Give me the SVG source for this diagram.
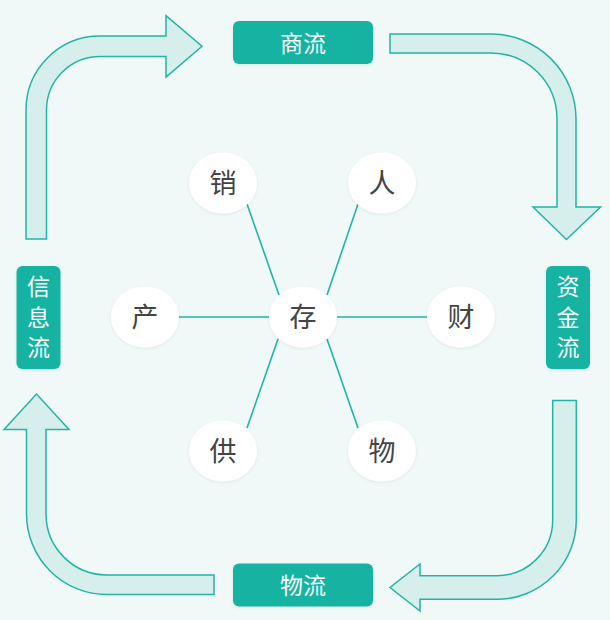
<svg xmlns="http://www.w3.org/2000/svg" width="610" height="620" viewBox="0 0 610 620">
<defs>
<filter id="sh" x="-20%" y="-20%" width="140%" height="140%">
<feDropShadow dx="0" dy="1" stdDeviation="1.5" flood-color="#000" flood-opacity="0.08"/>
</filter>
<style>
.arrow{fill:#d7efec;stroke:#24b4a3;stroke-width:1.5;stroke-linejoin:miter}
.box{fill:#17b3a2;filter:url(#sh)}
.btxt{fill:#ffffff;font-family:"Noto Sans CJK SC","Noto Sans",sans-serif;font-size:23px;text-anchor:middle}
.vtxt{writing-mode:vertical-rl;text-orientation:upright;letter-spacing:7.5px}
.node{fill:#ffffff;filter:url(#sh)}
.ntxt{fill:#444444;font-family:"Noto Sans CJK SC","Noto Sans",sans-serif;font-size:27px;text-anchor:middle}
.link{stroke:#1fb5a3;stroke-width:1.6;fill:none}
</style>
</defs>
<rect x="0" y="0" width="610" height="620" fill="#f1f8f8"/>
<g id="connectors">
<path class="arrow" d="M46.5,239 L46.5,110 A53.5,53.5 0 0 1 100,56.5 L166,56.5 L166,77 L202,46.3 L166,15.7 L166,36 L100,36 A74,74 0 0 0 26,110 L26,239 Z"/>
<path class="arrow" d="M390,34 L491,34 A85,85 0 0 1 576,119 L576,207 L600.5,207 L566.5,239.5 L533,207 L557,207 L557,119 A66,66 0 0 0 491,53 L390,53 Z"/>
<path class="arrow" d="M552.7,400.5 L576.3,400.5 L576.3,520 A79.3,79.3 0 0 1 497,599.3 L420,599.3 L420,611 L390,587.5 L420,564 L420,575.7 L497,575.7 A55.7,55.7 0 0 0 552.7,520 Z"/>
<path class="arrow" d="M214,575 L107,575 A61,61 0 0 1 46,514 L46,429.5 L69,429.5 L36.5,394 L4,429.5 L26.5,429.5 L26.5,514 A80.5,80.5 0 0 0 107,594.5 L214,594.5 Z"/>
<line class="link" x1="247" y1="204" x2="279" y2="295"/>
<line class="link" x1="358" y1="204" x2="327" y2="295"/>
<line class="link" x1="179" y1="317" x2="269" y2="317"/>
<line class="link" x1="337" y1="317" x2="427" y2="317"/>
<line class="link" x1="247" y1="428" x2="278" y2="339"/>
<line class="link" x1="358" y1="428" x2="327" y2="339"/>
</g>
<g id="shangliu">
<rect class="box" x="233" y="21" width="140" height="43" rx="6"/>
<text class="btxt" x="303" y="51.5">商流</text>
</g>
<g id="zijinliu">
<rect class="box" x="546" y="266" width="44" height="103" rx="6"/>
<text class="btxt vtxt" x="568" y="321">资金流</text>
</g>
<g id="xinxiliu">
<rect class="box" x="16.5" y="266" width="44" height="103" rx="6"/>
<text class="btxt vtxt" x="38.5" y="321">信息流</text>
</g>
<g id="wuliu">
<rect class="box" x="233" y="563.5" width="140" height="43" rx="6"/>
<text class="btxt" x="303" y="594">物流</text>
</g>
<g id="xiao">
<ellipse class="node" cx="223" cy="183" rx="34" ry="30.5"/>
<text class="ntxt" x="223" y="193">销</text>
</g>
<g id="ren">
<ellipse class="node" cx="382" cy="183" rx="34" ry="30.5"/>
<text class="ntxt" x="382" y="193">人</text>
</g>
<g id="chan">
<ellipse class="node" cx="145" cy="317" rx="34" ry="30.5"/>
<text class="ntxt" x="145" y="327">产</text>
</g>
<g id="cun">
<ellipse class="node" cx="303" cy="317" rx="34" ry="30.5"/>
<text class="ntxt" x="303" y="327">存</text>
</g>
<g id="cai">
<ellipse class="node" cx="461" cy="317" rx="34" ry="30.5"/>
<text class="ntxt" x="461" y="327">财</text>
</g>
<g id="gong">
<ellipse class="node" cx="223" cy="451" rx="34" ry="30.5"/>
<text class="ntxt" x="223" y="461">供</text>
</g>
<g id="wu">
<ellipse class="node" cx="382" cy="451" rx="34" ry="30.5"/>
<text class="ntxt" x="382" y="461">物</text>
</g>
</svg>
